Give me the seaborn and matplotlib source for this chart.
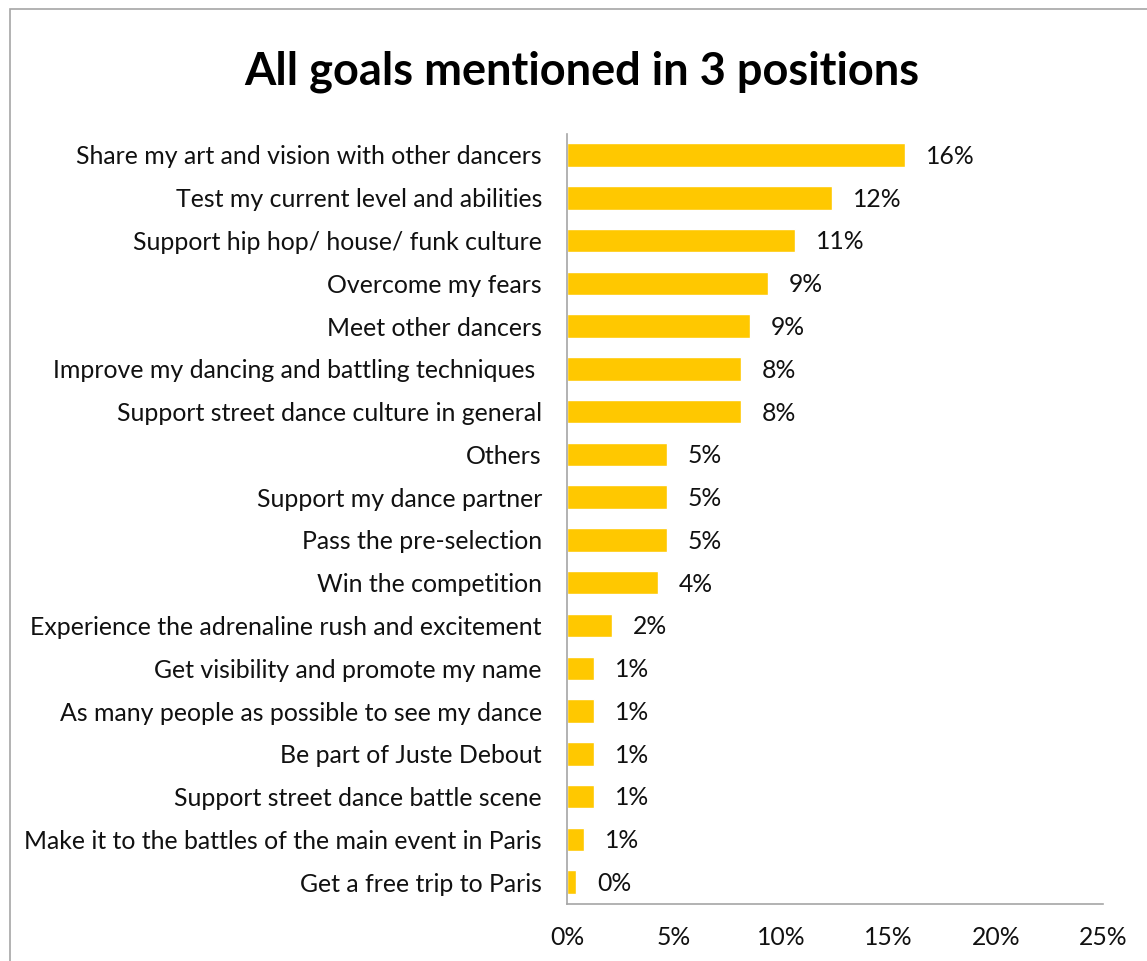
import matplotlib
matplotlib.use("Agg")
import matplotlib.pyplot as plt
import seaborn as sns
import pandas as pd
from matplotlib.patches import Rectangle

goals = [
    "Share my art and vision with other dancers",
    "Test my current level and abilities",
    "Support hip hop/ house/ funk culture",
    "Overcome my fears",
    "Meet other dancers",
    "Improve my dancing and battling techniques ",
    "Support street dance culture in general",
    "Others",
    "Support my dance partner",
    "Pass the pre-selection",
    "Win the competition",
    "Experience the adrenaline rush and excitement",
    "Get visibility and promote my name",
    "As many people as possible to see my dance",
    "Be part of Juste Debout",
    "Support street dance battle scene",
    "Make it to the battles of the main event in Paris",
    "Get a free trip to Paris",
]
shares = [15.76, 12.36, 10.63, 9.37, 8.53, 8.12, 8.12, 4.66, 4.66, 4.66,
          4.24, 2.10, 1.26, 1.26, 1.26, 1.26, 0.79, 0.42]
x_ticks = [0, 5, 10, 15, 20, 25]

df = pd.DataFrame({"goal": goals, "share": shares})

sns.set_theme(style="white")
plt.rcParams["font.family"] = ["Lato", "DejaVu Sans"]

fig = plt.figure(figsize=(11.47, 9.61), dpi=100)
ax = fig.add_axes([0.4943, 0.0598, 0.4674, 0.8012])

sns.barplot(data=df, x="share", y="goal", orient="h", color="#FFC800",
            width=0.55, saturation=1, ax=ax)

ax.set_xlim(0, 25)
ax.set_ylim(len(goals) - 0.5, -0.5)
ax.set_xticks(x_ticks)
ax.set_xticklabels([f"{t}%" for t in x_ticks], fontsize=17.8, color="#111111")
ax.tick_params(axis="y", labelsize=17.9, labelcolor="#111111", length=0, pad=18)
ax.tick_params(axis="x", length=0, pad=16)
ax.set_xlabel("")
ax.set_ylabel("")

for spine in ["top", "right"]:
    ax.spines[spine].set_visible(False)
for spine in ["left", "bottom"]:
    ax.spines[spine].set_color("#A6A6A6")
    ax.spines[spine].set_linewidth(1.2)

for i, v in enumerate(shares):
    ax.annotate(f"{v:.0f}%", xy=(v, i), xytext=(15, -1), textcoords="offset points",
                ha="left", va="center", fontsize=17.8, color="#111111")

fig.text(0.507, 0.925, "All goals mentioned in 3 positions", ha="center", va="center",
         fontsize=32.5, fontweight="bold", color="#000000")

# chart border
fig.patches.append(Rectangle((10 / 1147, -0.05), 1.2, 1 - 9 / 961 + 0.05,
                             transform=fig.transFigure, fill=False,
                             edgecolor="#A6A6A6", linewidth=1.2))

fig.savefig("out.png", dpi=100, facecolor="white")
